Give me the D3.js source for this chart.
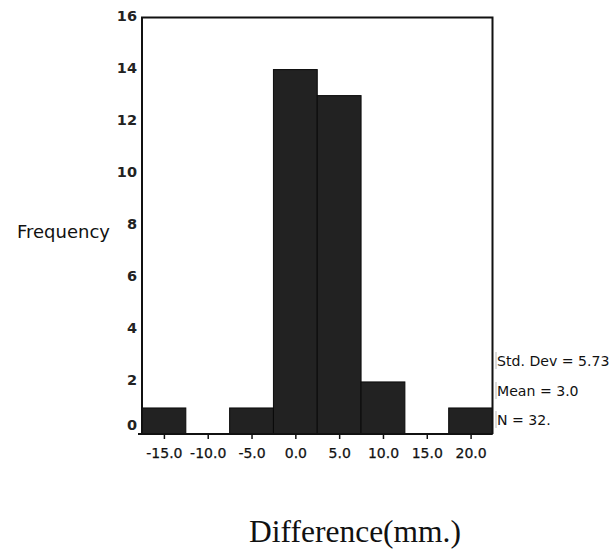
<!DOCTYPE html>
<html>
<head>
<meta charset="utf-8">
<script src="https://cdn.jsdelivr.net/npm/d3@7/dist/d3.min.js"></script>
<style>
  html, body { margin: 0; padding: 0; background: #fff; }
  svg { display: block; }
</style>
</head>
<body>
<script>
// Data
const binCenters = [-15, -10, -5, 0, 5, 10, 15, 20];
const frequencies = [1, 0, 1, 14, 13, 2, 0, 1];
const xTickValues = [-15, -10, -5, 0, 5, 10, 15, 20];
const yTickValues = [0, 2, 4, 6, 8, 10, 12, 14, 16];
const statLines = ["Std. Dev = 5.73", "Mean = 3.0", "N = 32."];
const binWidth = 5;

const W = 613, H = 551;
const plotLeft = 142, plotRight = 492.5, plotTop = 17.5, plotBottom = 434;

const svg = d3.select("body").append("svg").attr("width", W).attr("height", H);

const x = d3.scaleLinear().domain([-17.5, 22.5]).range([plotLeft, plotRight]);
const y = d3.scaleLinear().domain([0, 16]).range([plotBottom, plotTop]);

// Bars
svg.append("g").selectAll("rect")
  .data(binCenters.map((c, i) => ({c, f: frequencies[i]})).filter(d => d.f > 0))
  .join("rect")
  .attr("x", d => x(d.c - binWidth / 2))
  .attr("width", d => x(d.c + binWidth / 2) - x(d.c - binWidth / 2))
  .attr("y", d => y(d.f))
  .attr("height", d => y(0) - y(d.f))
  .attr("fill", "#222")
  .attr("stroke", "#0a0a0a")
  .attr("stroke-width", 1);

// Frame (left, top, right)
svg.append("path")
  .attr("d", `M${plotLeft},${plotBottom} V${plotTop} H${plotRight} V${plotBottom}`)
  .attr("fill", "none")
  .attr("stroke", "#111")
  .attr("stroke-width", 2);

// X axis
const xAxis = d3.axisBottom(x).tickValues(xTickValues).tickSize(5).tickPadding(9)
  .tickFormat(d => d3.format(".1f")(d).replace("\u2212", "-"));
const gx = svg.append("g").attr("transform", `translate(0,${plotBottom})`).call(xAxis);
gx.select(".domain").remove();
gx.append("line").attr("x1", plotLeft - 4).attr("x2", plotRight).attr("y1", 0).attr("y2", 0)
  .attr("stroke", "#111").attr("stroke-width", 2);
gx.selectAll(".tick line").attr("stroke", "#111").attr("stroke-width", 1.5);
gx.selectAll(".tick text")
  .attr("font-family", "DejaVu Sans, Verdana, sans-serif")
  .attr("font-size", 14)
  .attr("fill", "#111")
  .attr("stroke", "#111").attr("stroke-width", 0.25);

// Y axis
const yAxis = d3.axisLeft(y).tickValues(yTickValues).tickSize(0).tickPadding(5)
  .tickFormat(d3.format("d"));
const gy = svg.append("g").attr("transform", `translate(${plotLeft},0)`).call(yAxis);
gy.select(".domain").remove();
gy.selectAll(".tick text")
  .attr("font-family", "DejaVu Sans, Verdana, sans-serif")
  .attr("font-size", 14.5)
  .attr("font-weight", "bold")
  .attr("fill", "#222")
  .attr("dy", d => d === 0 ? "-0.3em" : "0.2em");

// Y title
svg.append("text")
  .attr("x", 17).attr("y", 238)
  .attr("font-family", "DejaVu Sans, Verdana, sans-serif")
  .attr("font-size", 18)
  .attr("fill", "#111")
  .text("Frequency");

// Stats
const statY = [361, 391, 420];
statLines.forEach((t, i) => {
  svg.append("line")
    .attr("x1", 496).attr("x2", 496)
    .attr("y1", statY[i] - 9).attr("y2", statY[i] + 8)
    .attr("stroke", "#bbb").attr("stroke-width", 1);
  svg.append("text")
    .attr("x", 497).attr("y", statY[i] + 5)
    .attr("font-family", "DejaVu Sans, Verdana, sans-serif")
    .attr("font-size", 14.1)
    .attr("fill", "#111")
    .text(t);
});

// X title
svg.append("text")
  .attr("x", 355).attr("y", 542)
  .attr("text-anchor", "middle")
  .attr("font-family", "Liberation Serif, Times New Roman, serif")
  .attr("font-size", 31.5)
  .attr("fill", "#111")
  .text("Difference(mm.)");
</script>
</body>
</html>
